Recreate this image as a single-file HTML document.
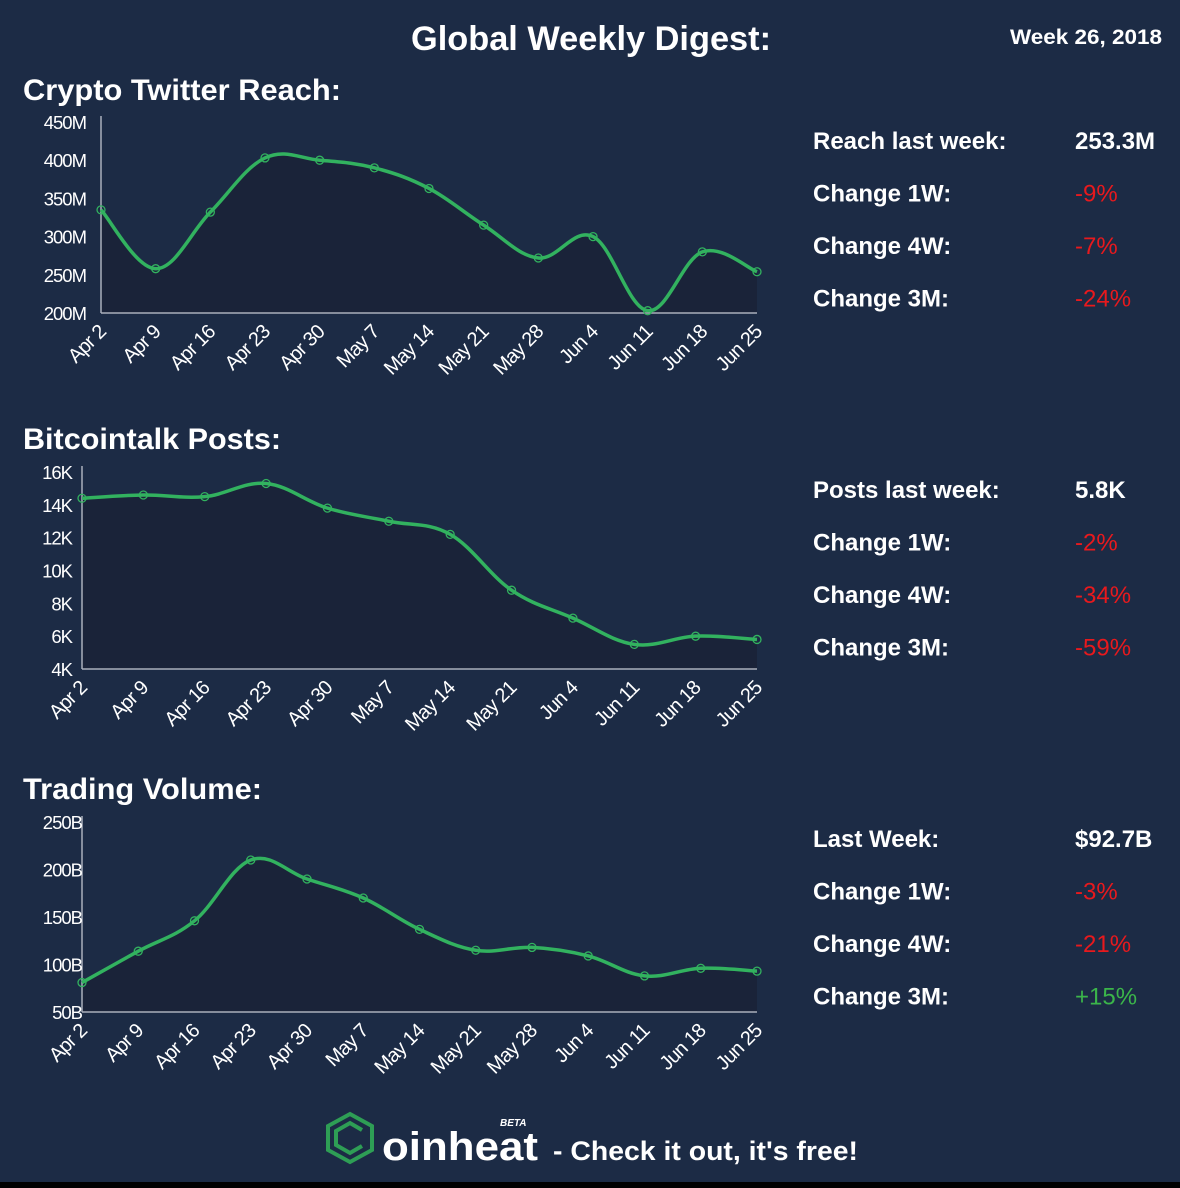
<!DOCTYPE html>
<html><head><meta charset="utf-8"><style>
html,body{margin:0;padding:0;background:#1c2b45;}
svg{display:block;font-family:"Liberation Sans",sans-serif;}
</style></head><body>
<svg id="s" width="1180" height="1188" viewBox="0 0 1180 1188">
<rect x="0" y="0" width="1180" height="1188" fill="#1c2b45"/>
<rect x="0" y="1182" width="1180" height="6" fill="#000"/>
<text x="591" y="50" text-anchor="middle" font-size="34" font-weight="bold" fill="#fff" textLength="360" lengthAdjust="spacingAndGlyphs">Global Weekly Digest:</text>
<text x="1162" y="44" text-anchor="end" font-size="21" font-weight="bold" fill="#fff" textLength="152" lengthAdjust="spacingAndGlyphs">Week 26, 2018</text>
<g id="charts"></g>
<g>
<path d="M350 1114 L372 1126 L372 1150 L350 1162 L328 1150 L328 1126 Z" fill="none" stroke="#2e9e55" stroke-width="4"/>
<path d="M362 1130 L350 1123 L336 1131 L336 1145 L350 1153 L362 1146" fill="none" stroke="#2e9e55" stroke-width="4"/>
<text x="382" y="1160" font-size="40" font-weight="bold" fill="#fff" textLength="156" lengthAdjust="spacingAndGlyphs">oinheat</text>
<text x="500" y="1126" font-size="10" font-weight="bold" font-style="italic" fill="#fff">BETA</text>
</g>
<text x="553" y="1160" font-size="27" font-weight="bold" fill="#fff" textLength="305" lengthAdjust="spacingAndGlyphs">- Check it out, it's free!</text>
</svg>
<script>
const NS="http://www.w3.org/2000/svg";
const reachDates=["Apr 2","Apr 9","Apr 16","Apr 23","Apr 30","May 7","May 14","May 21","May 28","Jun 4","Jun 11","Jun 18","Jun 25"];
const reachValues=[335,258,332,403,400,390,363,315,272,300,203,280,254];
const reachTicks=[200,250,300,350,400,450];
const postsDates=["Apr 2","Apr 9","Apr 16","Apr 23","Apr 30","May 7","May 14","May 21","Jun 4","Jun 11","Jun 18","Jun 25"];
const postsValues=[14.4,14.6,14.5,15.3,13.8,13.0,12.2,8.8,7.1,5.5,6.0,5.8];
const postsTicks=[4,6,8,10,12,14,16];
const volDates=["Apr 2","Apr 9","Apr 16","Apr 23","Apr 30","May 7","May 14","May 21","May 28","Jun 4","Jun 11","Jun 18","Jun 25"];
const volValues=[81,114,146,210,190,170,137,115,118,109,88,96,93];
const volTicks=[50,100,150,200,250];
const reachStats=[["Reach last week:","253.3M","#fff"],["Change 1W:","-9%","#e8191d"],["Change 4W:","-7%","#e8191d"],["Change 3M:","-24%","#e8191d"]];
const postsStats=[["Posts last week:","5.8K","#fff"],["Change 1W:","-2%","#e8191d"],["Change 4W:","-34%","#e8191d"],["Change 3M:","-59%","#e8191d"]];
const volStats=[["Last Week:","$92.7B","#fff"],["Change 1W:","-3%","#e8191d"],["Change 4W:","-21%","#e8191d"],["Change 3M:","+15%","#3bb54a"]];

const root=document.getElementById("charts");
function el(t,a,p){const e=document.createElementNS(NS,t);for(const k in a)e.setAttribute(k,a[k]);(p||root).appendChild(e);return e;}
function spline(pts){let d="M"+pts[0][0]+" "+pts[0][1];for(let i=0;i<pts.length-1;i++){const p0=pts[i-1]||pts[i],p1=pts[i],p2=pts[i+1],p3=pts[i+2]||p2;const t=0.18;
d+=" C"+(p1[0]+(p2[0]-p0[0])*t)+" "+(p1[1]+(p2[1]-p0[1])*t)+" "+(p2[0]-(p3[0]-p1[0])*t)+" "+(p2[1]-(p3[1]-p1[1])*t)+" "+p2[0]+" "+p2[1];}return d;}

function chart(c){
  const g=el("g",{});
  
  
  const t=el("text",{x:23,y:c.titleY,"font-size":30,"font-weight":"bold",fill:"#fff",textLength:c.titleW,lengthAdjust:"spacingAndGlyphs"},g);
  t.textContent=c.title;
  
  
  const min=c.ticks[0],max=c.ticks[c.ticks.length-1];
  const y=v=>c.y1-(v-min)/(max-min)*(c.y1-c.y0);
  const x=i=>c.x0+i*(c.x1-c.x0)/(c.vals.length-1);
  const pts=c.vals.map((v,i)=>[x(i),y(v)]);
  const d=spline(pts);
  el("path",{d:d+" L"+c.x1+" "+c.y1+" L"+c.x0+" "+c.y1+" Z",fill:"#1a2339"},g);
  el("line",{x1:c.x0,y1:c.y0-6,x2:c.x0,y2:c.y1,stroke:"#aab0bb","stroke-width":1.5},g);
  el("line",{x1:c.x0,y1:c.y1,x2:c.x1,y2:c.y1,stroke:"#aab0bb","stroke-width":1.5},g);
  c.ticks.forEach(v=>{const tx=el("text",{x:c.tickX,y:y(v)+7,"text-anchor":"end","font-size":18.5,fill:"#fff","letter-spacing":"-1"},g);tx.textContent=v+c.unit;
    
    });
  c.dates.forEach((s,i)=>{const ax=x(i)+6,ay=c.y1+20;const tx=el("text",{x:ax,y:ay,"text-anchor":"end","font-size":20,fill:"#fff","letter-spacing":"-0.8",transform:"rotate(-45 "+ax+" "+ay+")"},g);tx.textContent=s;
    
    });
  const line=el("path",{d:d,fill:"none",stroke:"#32b25f","stroke-width":3.5},g);
  
  
  pts.forEach(p=>{const m=el("circle",{cx:p[0],cy:p[1],r:4,fill:"none",stroke:"#32b25f","stroke-width":1.3},g);
    
    });
  c.stats.forEach((r,i)=>{const yy=c.statY+i*52.5;
    const a=el("text",{x:813,y:yy,"font-size":24,"font-weight":"bold",fill:"#fff"},g);a.textContent=r[0];
    
    
    const b=el("text",{x:1075,y:yy,"font-size":24,"font-weight":i?"normal":"bold",fill:r[2]},g);b.textContent=r[1];
    
    });
}
chart({name:"twitter-reach-chart",title:"Crypto Twitter Reach:",titleY:100,titleW:318,dates:reachDates,vals:reachValues,ticks:reachTicks,unit:"M",x0:101,x1:757,y0:122,y1:313,tickX:86,stats:reachStats,statY:149});
chart({name:"bitcointalk-posts-chart",title:"Bitcointalk Posts:",titleY:449,titleW:258,dates:postsDates,vals:postsValues,ticks:postsTicks,unit:"K",x0:82,x1:757,y0:472,y1:669,tickX:72,stats:postsStats,statY:498});
chart({name:"trading-volume-chart",title:"Trading Volume:",titleY:799,titleW:239,dates:volDates,vals:volValues,ticks:volTicks,unit:"B",x0:82,x1:757,y0:822,y1:1012,tickX:82,stats:volStats,statY:847});
</script>
</body></html>
